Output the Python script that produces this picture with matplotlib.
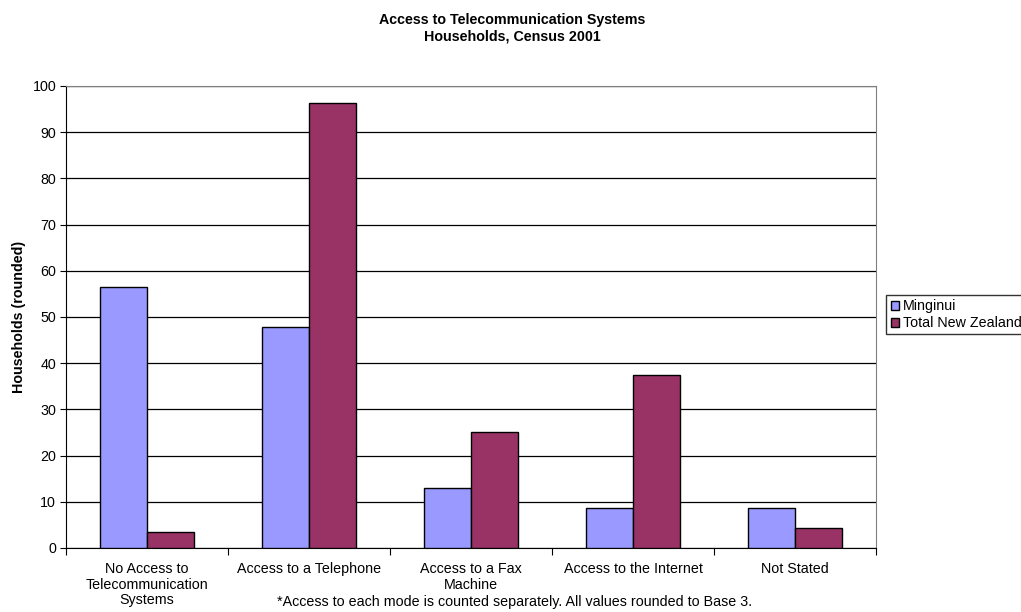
import numpy as np
import matplotlib.pyplot as plt

plt.rcParams['font.family'] = ['Liberation Sans', 'DejaVu Sans']

categories = ['No Access to\nTelecommunication\nSystems', 'Access to a Telephone',
              'Access to a Fax\nMachine', 'Access to the Internet', 'Not Stated']
minginui = [56.5, 47.8, 13.0, 8.7, 8.7]
total_nz = [3.5, 96.3, 25.2, 37.4, 4.3]

fs = 10.3

fig = plt.figure(figsize=(10.21, 6.12), dpi=100)
ax = fig.add_axes([0.0646, 0.1046, 0.7934, 0.7549])

x = np.arange(len(categories))
w = 0.288
ax.bar(x - w / 2, minginui, w, color='#9999FF', edgecolor='black', linewidth=1, label='Minginui', zorder=3)
ax.bar(x + w / 2, total_nz, w, color='#993366', edgecolor='black', linewidth=1, label='Total New Zealand', zorder=3)

ax.set_xlim(-0.5, len(categories) - 0.5)
ax.set_ylim(0, 100)
ax.set_yticks(range(0, 101, 10))
ax.yaxis.grid(True, color='black', linewidth=0.9, zorder=0)

# category labels sit between the boundary ticks
ax.set_xticks(np.arange(-0.5, len(categories)))
ax.set_xticklabels([])
ax.set_xticks(x, minor=True)
ax.set_xticklabels(categories, minor=True, fontsize=fs, va='top', linespacing=1.15)
ax.tick_params(axis='x', which='minor', length=0, pad=10)
ax.tick_params(axis='x', which='major', length=5, direction='out', color='black')
ax.tick_params(axis='y', length=4, direction='out', labelsize=fs, pad=3)

for side in ['top', 'right']:
    ax.spines[side].set_color('#808080')
ax.spines['left'].set_color('black')
ax.spines['bottom'].set_color('black')

ax.set_ylabel('Households (rounded)', fontsize=fs, fontweight='bold')
ax.yaxis.set_label_coords(-0.049, 0.5)

fig.text(0.502, 0.954, 'Access to Telecommunication Systems\nHouseholds, Census 2001',
         ha='center', va='center', fontsize=fs, fontweight='bold', linespacing=1.2)

fig.text(0.504, 0.016, '*Access to each mode is counted separately. All values rounded to Base 3.',
         ha='center', va='center', fontsize=fs)

fig.legend(loc='upper left', bbox_to_anchor=(0.868, 0.518), fontsize=fs, frameon=True,
           fancybox=False, edgecolor='black', handlelength=0.6, handleheight=0.6,
           handletextpad=0.25, borderpad=0.3, labelspacing=0.2, borderaxespad=0)

fig.savefig('out.png', dpi=100)
